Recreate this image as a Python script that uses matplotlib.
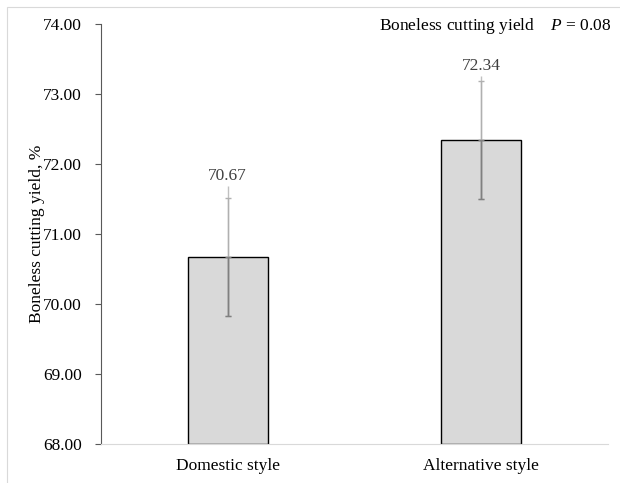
import matplotlib
matplotlib.use("Agg")
import matplotlib.pyplot as plt
from matplotlib.patches import Rectangle

categories = ["Domestic style", "Alternative style"]
means = [70.67, 72.34]
se = [0.845, 0.845]
upper_reach = [1.02, 0.92]
y_ticks = [68, 69, 70, 71, 72, 73, 74]

plt.rcParams["font.family"] = ["Liberation Serif", "DejaVu Serif"]
plt.rcParams["mathtext.fontset"] = "custom"
plt.rcParams["mathtext.it"] = "Liberation Serif:italic"
plt.rcParams["mathtext.rm"] = "Liberation Serif"

fig = plt.figure(figsize=(6.2, 4.83), dpi=100)
ax = fig.add_axes([0.1629, 0.0807, 0.8177, 0.8696])

# light frame around the chart area
fig.patches.append(Rectangle((7 / 620, -0.1), 1.2, 1 - 7 / 483 + 0.1,
                             transform=fig.transFigure, fill=False,
                             edgecolor="#d9d9d9", linewidth=0.8))

x = list(range(len(categories)))
bars = ax.bar(x, [m - 68 for m in means], bottom=68, width=0.316,
              color="#d9d9d9", edgecolor="black", linewidth=1.0, zorder=2)

# thin upper whisker (no cap)
ax.errorbar(x, means, yerr=[[0, 0], upper_reach], fmt="none",
            ecolor="#c0c0c0", elinewidth=1.0, capsize=0, zorder=3)
# standard error whisker with caps
ax.errorbar(x, means, yerr=se, fmt="none", ecolor="#b0b0b0",
            elinewidth=1.0, capsize=2.5, capthick=1.0, zorder=3)
# darker part of the whisker inside each bar
for xi, m, s, b in zip(x, means, se, bars):
    ln = ax.vlines(xi, m - s, m + 1.5, color="#808080", linewidth=1.0, zorder=4)
    ln.set_clip_path(b)
    ax.errorbar([xi], [m], yerr=[[s], [0]], fmt="none", ecolor="#808080",
                elinewidth=1.0, capsize=2.5, capthick=1.0, zorder=4)

for xi, m, u in zip(x, means, upper_reach):
    ax.annotate(f"{m:.2f}", (xi, m + u), xytext=(0, 1.5), textcoords="offset points",
                ha="center", va="bottom", fontsize=12.5, color="#404040")

ax.set_xlim(-0.5, 1.5)
ax.set_ylim(68, 74)
ax.set_yticks(y_ticks)
ax.set_yticklabels([f"{t:.2f}" for t in y_ticks], fontsize=12.5)
ax.set_xticks(x)
ax.set_xticklabels(categories, fontsize=12.5)
ax.tick_params(axis="x", length=0, pad=10)
ax.tick_params(axis="y", length=4, width=0.8, color="#595959", pad=10)
ax.set_ylabel("Boneless cutting yield, %", fontsize=12.5, labelpad=-1.5)

ax.spines["top"].set_visible(False)
ax.spines["right"].set_visible(False)
ax.spines["left"].set_color("#595959")
ax.spines["bottom"].set_color("#d9d9d9")

fig.text(0.987, 1 - 26 / 483, "Boneless cutting yield    $P$ = 0.08",
         ha="right", va="center", fontsize=12.5)

fig.savefig("out.png", dpi=100)
